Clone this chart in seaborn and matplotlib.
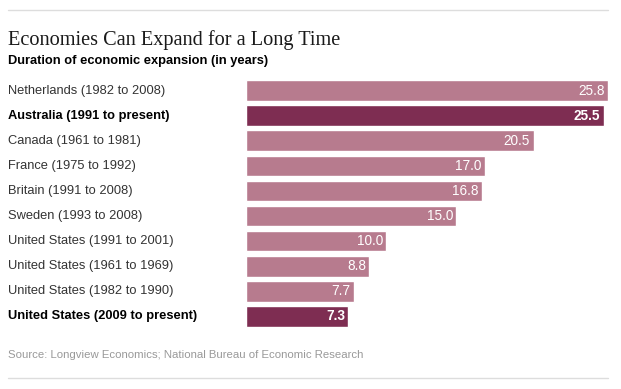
import matplotlib
matplotlib.use("Agg")
import matplotlib.pyplot as plt
import matplotlib.transforms as mtransforms
import seaborn as sns
import pandas as pd

labels = ["Netherlands (1982 to 2008)", "Australia (1991 to present)", "Canada (1961 to 1981)",
          "France (1975 to 1992)", "Britain (1991 to 2008)", "Sweden (1993 to 2008)",
          "United States (1991 to 2001)", "United States (1961 to 1969)",
          "United States (1982 to 1990)", "United States (2009 to present)"]
years = [25.8, 25.5, 20.5, 17.0, 16.8, 15.0, 10.0, 8.8, 7.7, 7.3]
current = [False, True, False, False, False, False, False, False, False, True]

light = "#b77b8e"
dark = "#7e2d52"

df = pd.DataFrame({"label": labels, "years": years, "current": current})

sns.set_style("white")
plt.rcParams["font.family"] = ["Liberation Sans", "DejaVu Sans"]

fig = plt.figure(figsize=(6.21, 3.89), dpi=100)
ax = fig.add_axes([246 / 621, 1 - 329 / 389, 362 / 621, 251 / 389])

palette = [dark if c else light for c in current]
sns.barplot(data=df, x="years", y="label", hue="label", palette=palette,
            legend=False, width=0.82, ax=ax, saturation=1)
ax.set_xlim(0, 25.8)
ax.set_ylim(9.5, -0.5)
ax.axis("off")

trans = mtransforms.blended_transform_factory(fig.transFigure, ax.transData)
for i, (lab, val, cur) in enumerate(zip(labels, years, current)):
    w = "bold" if cur else "normal"
    ax.text(8 / 621, i, lab, transform=trans, ha="left", va="center",
            fontsize=9.3, color="black" if cur else "#333333", fontweight=w)
    ax.text(val - 0.25, i, f"{val:.1f}", ha="right", va="center",
            fontsize=9.8, color="white", fontweight=w)

fig.text(8 / 621, 1 - 40 / 389, "Economies Can Expand for a Long Time",
         family="Liberation Serif", fontsize=14.6, va="center", color="#1a1a1a")
fig.text(8 / 621, 1 - 61 / 389, "Duration of economic expansion (in years)",
         fontsize=9.3, fontweight="bold", va="center", color="black")
fig.text(8 / 621, 1 - 355 / 389, "Source: Longview Economics; National Bureau of Economic Research",
         fontsize=8.2, va="center", color="#999999")

for yy in (10, 378):
    fig.add_artist(plt.Line2D([8 / 621, 608 / 621], [1 - yy / 389, 1 - yy / 389],
                              color="#dddddd", lw=1, transform=fig.transFigure))

fig.savefig("out.png", dpi=100)
